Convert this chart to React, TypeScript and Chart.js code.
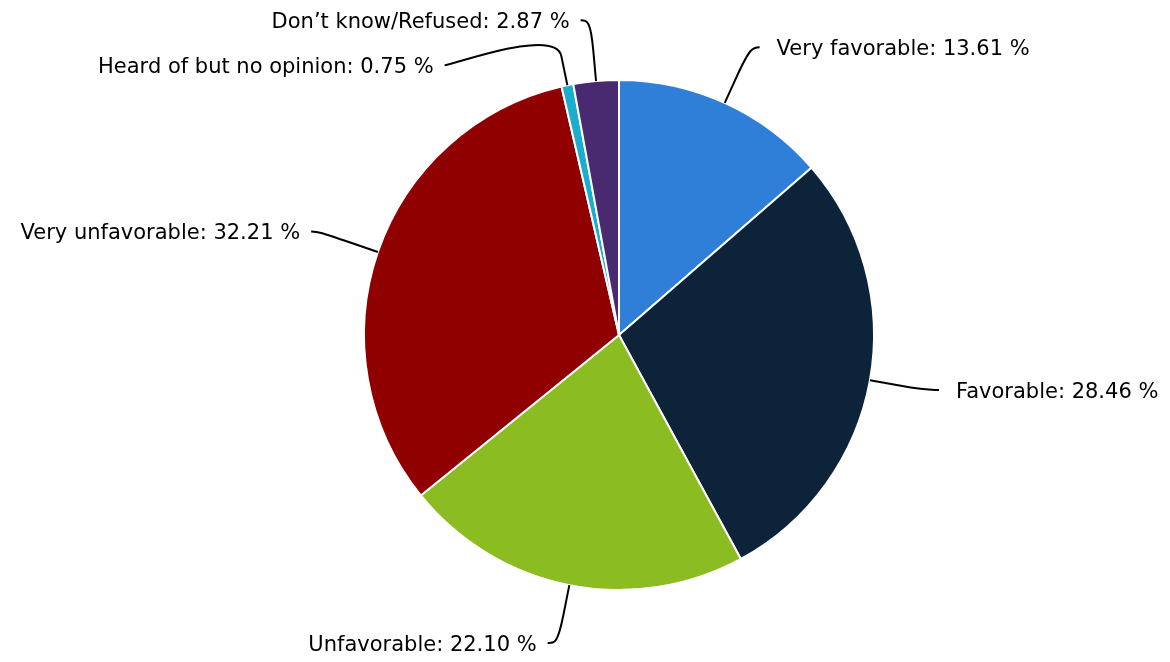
import React, { useEffect, useRef } from "react";
import { Chart, registerables } from "chart.js";

Chart.register(...registerables);

const categories = [
  "Very favorable",
  "Favorable",
  "Unfavorable",
  "Very unfavorable",
  "Heard of but no opinion",
  "Don’t know/Refused",
];
const values = [13.61, 28.46, 22.1, 32.21, 0.75, 2.87];
const colors = ["#2f7ed8", "#0d233a", "#8bbc21", "#910000", "#1aadce", "#492970"];

const LABEL_DISTANCE = 60;
const SLOT = 45;
const FONT = '21px "DejaVu Sans"';

const pieLabels = {
  id: "pieLabels",
  afterDraw(chart: any) {
    const meta = chart.getDatasetMeta(0);
    const ctx = chart.ctx as CanvasRenderingContext2D;
    const items = meta.data.map((arc: any, i: number) => {
      const p = arc.getProps(["x", "y", "startAngle", "endAngle", "outerRadius"], true);
      const a = (p.startAngle + p.endAngle) / 2;
      const r = p.outerRadius;
      const R2 = r + LABEL_DISTANCE;
      const left = Math.cos(a) < 0;
      const ny = p.y + Math.sin(a) * R2;
      return { i, a, cx: p.x, cy: p.y, r, R2, left, ny, y: ny };
    });
    for (const side of [true, false]) {
      const list = items.filter((it: any) => it.left === side).sort((u: any, v: any) => u.ny - v.ny);
      let prev = -Infinity;
      for (const it of list) {
        it.y = Math.max(it.ny, prev + SLOT);
        prev = it.y;
      }
    }
    ctx.save();
    ctx.font = FONT;
    for (const it of items) {
      const s = it.left ? -1 : 1;
      let x: number;
      if (Math.abs(it.y - it.ny) < 0.01) {
        x = it.cx + Math.cos(it.a) * it.R2;
      } else {
        const dy = it.y - it.cy;
        x = it.cx + s * Math.sqrt(Math.max(0, it.R2 * it.R2 - dy * dy));
      }
      const y = it.y - 1;
      const baseX = it.cx + Math.cos(it.a) * it.r;
      const baseY = it.cy + Math.sin(it.a) * it.r;
      const off = it.r + LABEL_DISTANCE / 2;
      const b2x = it.cx + Math.cos(it.a) * off;
      const b2y = it.cy + Math.sin(it.a) * off;
      ctx.beginPath();
      ctx.moveTo(x + s * 10, y);
      ctx.bezierCurveTo(x + s * 3, y, 2 * b2x - baseX, 2 * b2y - baseY, b2x, b2y);
      ctx.lineTo(baseX, baseY);
      ctx.strokeStyle = "#000000";
      ctx.lineWidth = 2;
      ctx.stroke();

      const text = `${categories[it.i]}: ${values[it.i].toFixed(2)} %`;
      ctx.fillStyle = "#000000";
      ctx.textBaseline = "alphabetic";
      ctx.textAlign = it.left ? "right" : "left";
      ctx.fillText(text, it.left ? x - 21 : x + 27, y + 8);
    }
    ctx.restore();
  },
};

export default function App() {
  const ref = useRef<HTMLCanvasElement | null>(null);
  useEffect(() => {
    if (!ref.current) return;
    const chart = new Chart(ref.current, {
      type: "pie",
      data: {
        labels: categories,
        datasets: [
          {
            data: values,
            backgroundColor: colors,
            borderColor: "#ffffff",
            borderWidth: 2,
          },
        ],
      },
      options: {
        responsive: false,
        animation: false,
        devicePixelRatio: 1,
        layout: { padding: { left: 363, right: 295, top: 79, bottom: 71 } },
        plugins: {
          legend: { display: false },
          tooltip: { enabled: false },
        },
        events: [],
      },
      plugins: [pieLabels],
    });
    return () => chart.destroy();
  }, []);
  return (
    <div style={{ position: "absolute", left: 0, top: 0, width: 1170, height: 662, background: "#ffffff" }}>
      <canvas ref={ref} width={1170} height={662} />
    </div>
  );
}
